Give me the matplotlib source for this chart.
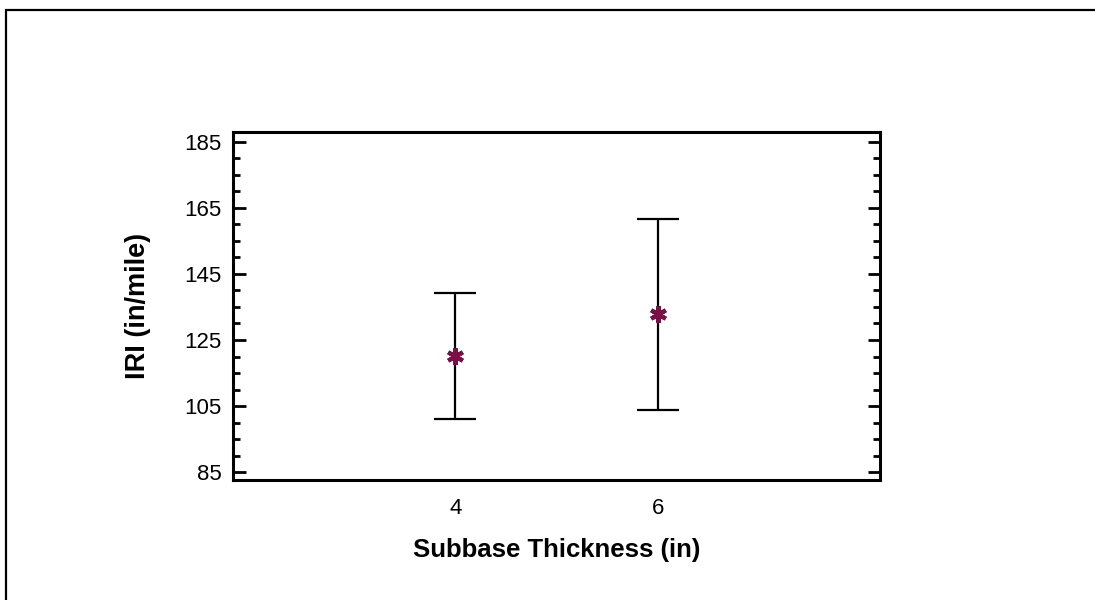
import matplotlib
matplotlib.use('Agg')

import matplotlib.pyplot as plt
from matplotlib.patches import Rectangle
from matplotlib.ticker import MultipleLocator

# subbase thickness groups and IRI statistics
thickness = [4, 6]
iri_mean = [120.2, 133.0]
iri_low = [101.0, 103.8]
iri_high = [139.3, 161.6]

plt.rcParams['font.family'] = ['Liberation Sans', 'DejaVu Sans']

fig = plt.figure(figsize=(10.95, 6.0), dpi=100)
ax = fig.add_axes([0.2128, 0.2, 0.591, 0.58])

err_lo = [m - lo for m, lo in zip(iri_mean, iri_low)]
err_hi = [hi - m for m, hi in zip(iri_mean, iri_high)]
ax.errorbar(thickness, iri_mean, yerr=[err_lo, err_hi], fmt='none',
            ecolor='black', elinewidth=1.6, capsize=15, capthick=1.6)
ax.plot(thickness, iri_mean, linestyle='none', marker=(6, 2, 0),
        markersize=12, markeredgewidth=3, color='#7a1045', zorder=3)

ax.set_xlim(1.8, 8.2)
ax.set_ylim(82.6, 188)
ax.set_xticks(thickness)
ax.yaxis.set_minor_locator(MultipleLocator(5))
ax.set_yticks(range(85, 186, 20))

ax.tick_params(axis='x', length=0, labelsize=16, pad=13)
ax.tick_params(axis='y', which='major', direction='in', length=9, width=2,
               left=True, right=True, labelsize=16, pad=8)
ax.tick_params(axis='y', which='minor', direction='in', length=5, width=2,
               left=True, right=True)
for sp in ax.spines.values():
    sp.set_linewidth(2.2)

ax.set_xlabel('Subbase Thickness (in)', fontsize=18.5, fontweight='bold', labelpad=14)
ax.set_ylabel('IRI (in/mile)', fontsize=19.5, fontweight='bold', labelpad=24)

# outer frame around the figure
fig.patches.append(Rectangle((6 / 1095, -0.1), 1.2, 1.1 - 10 / 600,
                             transform=fig.transFigure, fill=False,
                             edgecolor='black', linewidth=1.6))

fig.savefig('out.png', dpi=100)
